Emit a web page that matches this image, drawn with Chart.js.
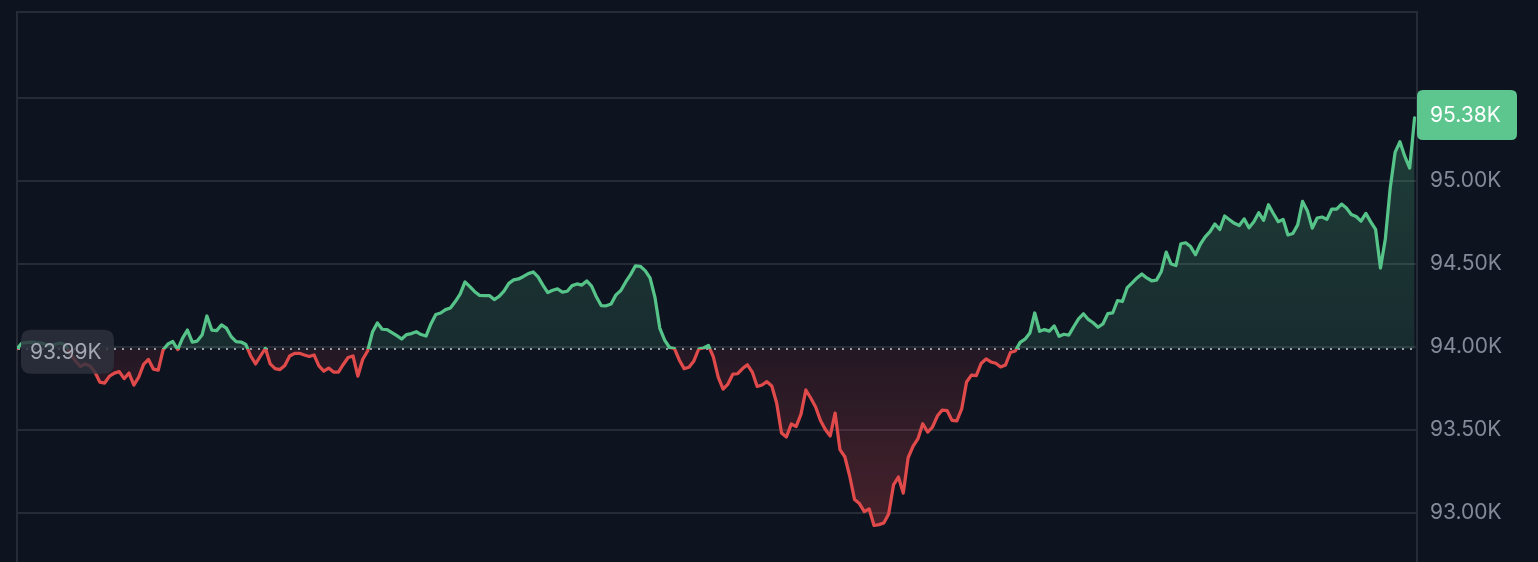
<!DOCTYPE html>
<html>
<head>
<meta charset="utf-8">
<title>BTC 24h</title>
<script src="https://cdn.jsdelivr.net/npm/chart.js@4.4.1/dist/chart.umd.min.js"></script>
<style>
  html, body { margin: 0; padding: 0; background: #0e1320; overflow: hidden; }
  #wrap { width: 1538px; height: 562px; position: relative; }
  canvas { display: block; }
</style>
</head>
<body>
<div id="wrap"><canvas id="chart" width="1538" height="562"></canvas></div>
<script>
// 5-minute closes over the last 24 hours
const prices = [
  93990,94024,94027,94030,94027,94024,94015,94009,94018,94024,
  94012,93958,93916,93883,93898,93886,93849,93789,93783,93825,
  93843,93852,93810,93843,93771,93819,93895,93925,93867,93861,
  93982,94018,94033,93985,94054,94102,94030,94036,94072,94187,
  94102,94099,94133,94114,94062,94033,94030,94015,93946,93898,
  93946,93992,93898,93870,93864,93889,93946,93962,93962,93952,
  93943,93952,93886,93855,93873,93849,93849,93895,93937,93946,
  93825,93926,93976,94090,94145,94107,94105,94087,94069,94048,
  94075,94081,94092,94075,94066,94139,94196,94205,94225,94235,
  94274,94319,94392,94364,94333,94311,94310,94310,94286,94305,
  94337,94383,94404,94410,94425,94442,94452,94422,94373,94328,
  94342,94350,94331,94336,94370,94380,94373,94398,94367,94301,
  94249,94248,94259,94314,94340,94392,94436,94489,94486,94460,
  94416,94301,94114,94042,93997,93991,93922,93870,93878,93916,
  93988,93994,94009,93940,93819,93747,93777,93836,93839,93870,
  93893,93849,93762,93771,93791,93765,93663,93482,93458,93536,
  93521,93596,93741,93693,93639,93557,93503,93464,93602,93382,
  93339,93223,93081,93057,93009,93024,92925,92930,92940,92994,
  93169,93217,93120,93333,93401,93446,93538,93488,93518,93584,
  93620,93617,93558,93555,93627,93789,93831,93828,93901,93928,
  93910,93902,93880,93892,93967,93976,94028,94047,94084,94205,
  94095,94105,94096,94127,94065,94077,94072,94122,94169,94200,
  94166,94146,94119,94139,94201,94205,94280,94274,94358,94386,
  94416,94440,94416,94399,94403,94455,94572,94500,94491,94622,
  94628,94605,94556,94619,94663,94695,94741,94708,94789,94767,
  94745,94732,94772,94718,94755,94809,94763,94857,94804,94755,
  94769,94675,94684,94736,94877,94820,94716,94777,94783,94769,
  94831,94831,94861,94837,94798,94786,94758,94805,94754,94708,
  94476,94651,94958,95172,95237,95148,95078,95380
];

// Reference price (open of the window) and axis ticks
const basePrice = 93990;
const tickValues = [93000, 93500, 94000, 94500, 95000, 95500];
const hiddenTicks = [95500];

const UP = '#56c389';
const DOWN = '#e04a4a';
const GRID = '#262b36';
const FONT = 'Inter, "Noto Sans", "DejaVu Sans", sans-serif';

const fmtK = v => (v / 1000).toFixed(2) + 'K';

function splitStroke(chart) {
  const { ctx, chartArea, scales } = chart;
  if (!chartArea) return UP;
  const y0 = scales.y.getPixelForValue(basePrice);
  const t = Math.min(1, Math.max(0, (y0 - chartArea.top) / (chartArea.bottom - chartArea.top)));
  const g = ctx.createLinearGradient(0, chartArea.top, 0, chartArea.bottom);
  g.addColorStop(0, UP);
  g.addColorStop(t, UP);
  g.addColorStop(t, DOWN);
  g.addColorStop(1, DOWN);
  return g;
}

function splitFill(chart) {
  const { ctx, chartArea, scales } = chart;
  if (!chartArea) return 'rgba(86,195,137,0.15)';
  const y0 = scales.y.getPixelForValue(basePrice);
  const t = Math.min(1, Math.max(0, (y0 - chartArea.top) / (chartArea.bottom - chartArea.top)));
  const g = ctx.createLinearGradient(0, chartArea.top, 0, chartArea.bottom);
  g.addColorStop(0, 'rgba(86,195,137,0.30)');
  g.addColorStop(t, 'rgba(86,195,137,0.14)');
  g.addColorStop(t, 'rgba(224,74,74,0.10)');
  g.addColorStop(1, 'rgba(224,74,74,0.30)');
  return g;
}

// Frame (top and left edges) plus the dotted reference line
const framePlugin = {
  id: 'frame',
  beforeDatasetsDraw(chart) {
    const { ctx, chartArea: a, scales } = chart;
    ctx.save();
    ctx.strokeStyle = GRID;
    ctx.lineWidth = 2;
    ctx.beginPath();
    ctx.moveTo(a.left, a.bottom);
    ctx.lineTo(a.left, a.top);
    ctx.lineTo(a.right, a.top);
    ctx.stroke();
    const y0 = Math.round(scales.y.getPixelForValue(basePrice));
    ctx.strokeStyle = 'rgba(200,204,214,0.75)';
    ctx.lineWidth = 2;
    ctx.setLineDash([2, 6]);
    ctx.beginPath();
    ctx.moveTo(a.left + 1, y0);
    ctx.lineTo(a.right, y0);
    ctx.stroke();
    ctx.restore();
  }
};

function roundRect(ctx, x, y, w, h, r) {
  ctx.beginPath();
  ctx.moveTo(x + r, y);
  ctx.lineTo(x + w - r, y);
  ctx.quadraticCurveTo(x + w, y, x + w, y + r);
  ctx.lineTo(x + w, y + h - r);
  ctx.quadraticCurveTo(x + w, y + h, x + w - r, y + h);
  ctx.lineTo(x + r, y + h);
  ctx.quadraticCurveTo(x, y + h, x, y + h - r);
  ctx.lineTo(x, y + r);
  ctx.quadraticCurveTo(x, y, x + r, y);
  ctx.closePath();
}

// Price tags: reference price on the left, last price on the axis
const tagPlugin = {
  id: 'tags',
  afterDatasetsDraw(chart) {
    const { ctx, chartArea: a, scales } = chart;
    ctx.save();
    ctx.font = '21px ' + FONT;
    ctx.textBaseline = 'middle';
    ctx.textAlign = 'left';

    const yb = scales.y.getPixelForValue(basePrice);
    roundRect(ctx, a.left + 4, yb - 19, 93, 44, 10);
    ctx.fillStyle = 'rgba(46,50,62,0.82)';
    ctx.fill();
    ctx.fillStyle = '#a4a8b4';
    ctx.fillText(fmtK(basePrice), a.left + 13, yb + 4);

    const last = prices[prices.length - 1];
    const yl = scales.y.getPixelForValue(last);
    roundRect(ctx, a.right, yl - 28, 100, 50, 6);
    ctx.fillStyle = '#5cc68e';
    ctx.fill();
    ctx.fillStyle = '#ffffff';
    ctx.fillText(fmtK(last), a.right + 13, yl - 2);
    ctx.restore();
  }
};

new Chart(document.getElementById('chart'), {
  type: 'line',
  data: {
    datasets: [{
      data: prices.map((p, i) => ({ x: i, y: p })),
      borderColor: c => splitStroke(c.chart),
      backgroundColor: c => splitFill(c.chart),
      fill: { value: basePrice },
      borderWidth: 3.25,
      borderJoinStyle: 'round',
      borderCapStyle: 'round',
      pointRadius: 0,
      tension: 0
    }]
  },
  options: {
    responsive: false,
    animation: false,
    devicePixelRatio: 1,
    layout: { autoPadding: false, padding: { top: 12, left: 17, right: 0, bottom: 0 } },
    plugins: { legend: { display: false }, tooltip: { enabled: false } },
    scales: {
      x: {
        type: 'linear',
        display: false,
        min: 0,
        max: prices.length - 0.5
      },
      y: {
        position: 'right',
        min: 92705,
        max: 96018,
        afterBuildTicks: s => { s.ticks = tickValues.map(v => ({ value: v })); },
        afterFit: s => { s.width = 121; s.paddingTop = 0; s.paddingBottom = 0; },
        grid: { color: GRID, lineWidth: 2, drawTicks: false },
        border: { display: true, color: GRID, width: 2 },
        ticks: {
          padding: 13,
          color: '#858a98',
          font: { size: 21, family: FONT },
          callback: v => hiddenTicks.includes(v) ? '' : fmtK(v)
        }
      }
    }
  },
  plugins: [framePlugin, tagPlugin]
});
</script>
</body>
</html>
